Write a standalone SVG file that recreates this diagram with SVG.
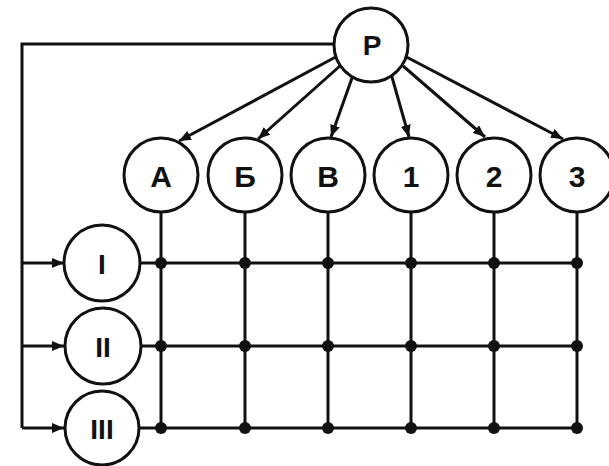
<svg xmlns="http://www.w3.org/2000/svg" width="609" height="466" viewBox="0 0 609 466">
  <defs>
    <marker id="arrow" viewBox="0 0 12 10" refX="12" refY="5" markerWidth="12" markerHeight="10" markerUnits="userSpaceOnUse" orient="auto">
      <path d="M0,0 L12,5 L0,10 Z" fill="#111"/>
    </marker>
    <style>
      .node circle { fill: #fff; stroke: #111; stroke-width: 3; }
      .node text { font-family: "Liberation Sans", Arial, sans-serif; font-weight: bold; fill: #111; text-anchor: middle; }
      .edge { fill: none; stroke: #111; stroke-width: 3; }
      .arr { marker-end: url(#arrow); }
      .dot { fill: #111; }
    </style>
  </defs>
  <rect width="609" height="466" fill="#fff"/>

  <g id="connectors">
    <!-- feedback loop from P down the left side -->
    <polyline class="edge" points="340,44 22,44 22,428" stroke-width="3.5"/>
    <line class="edge arr" x1="22" y1="263" x2="64" y2="263"/>
    <line class="edge arr" x1="22" y1="346" x2="64" y2="346"/>
    <line class="edge arr" x1="22" y1="428" x2="64" y2="428"/>
    <!-- P to the column nodes -->
    <line class="edge arr" x1="345" y1="52" x2="179" y2="141"/>
    <line class="edge arr" x1="350" y1="57" x2="258" y2="139"/>
    <line class="edge arr" x1="357" y1="64" x2="331" y2="137"/>
    <line class="edge arr" x1="388" y1="63" x2="409" y2="137"/>
    <line class="edge arr" x1="395" y1="59" x2="485" y2="137"/>
    <line class="edge arr" x1="395" y1="51" x2="563" y2="139"/>
    <!-- grid: columns -->
    <line class="edge" x1="161" y1="200" x2="161" y2="428"/>
    <line class="edge" x1="245" y1="200" x2="245" y2="428"/>
    <line class="edge" x1="328" y1="200" x2="328" y2="428"/>
    <line class="edge" x1="411" y1="200" x2="411" y2="428"/>
    <line class="edge" x1="494" y1="200" x2="494" y2="428"/>
    <line class="edge" x1="577" y1="200" x2="577" y2="428"/>
    <!-- grid: rows -->
    <line class="edge" x1="130" y1="263" x2="577" y2="263" stroke-width="3.5"/>
    <line class="edge" x1="130" y1="346" x2="577" y2="346" stroke-width="3.5"/>
    <line class="edge" x1="130" y1="428" x2="577" y2="428"/>
    <!-- junction dots -->
    <g class="dot">
      <circle cx="161" cy="263" r="6"/><circle cx="245" cy="263" r="6"/><circle cx="328" cy="263" r="6"/>
      <circle cx="411" cy="263" r="6"/><circle cx="494" cy="263" r="6"/><circle cx="577" cy="263" r="6"/>
      <circle cx="161" cy="346" r="6"/><circle cx="245" cy="346" r="6"/><circle cx="328" cy="346" r="6"/>
      <circle cx="411" cy="346" r="6"/><circle cx="494" cy="346" r="6"/><circle cx="577" cy="346" r="6"/>
      <circle cx="161" cy="428" r="6"/><circle cx="245" cy="428" r="6"/><circle cx="328" cy="428" r="6"/>
      <circle cx="411" cy="428" r="6"/><circle cx="494" cy="428" r="6"/><circle cx="577" cy="428" r="6"/>
    </g>
  </g>

  <g id="node-P" class="node"><circle cx="371" cy="45" r="37"/><text x="372" y="55" font-size="28">P</text></g>

  <g id="node-A" class="node"><circle cx="161" cy="175" r="37"/><text x="161" y="187" font-size="30">А</text></g>
  <g id="node-B" class="node"><circle cx="245" cy="175" r="37"/><text x="245" y="187" font-size="30">Б</text></g>
  <g id="node-V" class="node"><circle cx="328" cy="175" r="37"/><text x="328" y="187" font-size="30">В</text></g>
  <g id="node-1" class="node"><circle cx="411" cy="175" r="37"/><text x="411" y="187" font-size="30">1</text></g>
  <g id="node-2" class="node"><circle cx="494" cy="175" r="37"/><text x="494" y="187" font-size="30">2</text></g>
  <g id="node-3" class="node"><circle cx="577" cy="175" r="37"/><text x="577" y="187" font-size="30">3</text></g>

  <g id="node-I" class="node"><circle cx="102" cy="263" r="38"/><text x="102" y="274" font-size="28">I</text></g>
  <g id="node-II" class="node"><circle cx="103" cy="346" r="38"/><text x="103" y="357" font-size="28">II</text></g>
  <g id="node-III" class="node"><circle cx="102" cy="428" r="37"/><text x="102" y="439" font-size="28">III</text></g>
</svg>
